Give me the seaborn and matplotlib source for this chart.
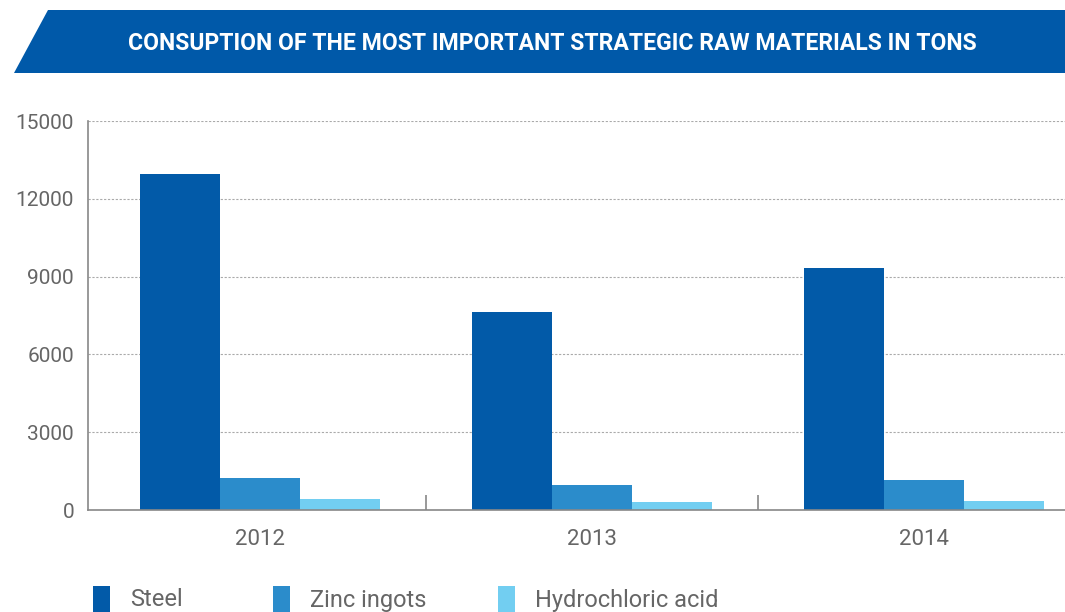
import pandas as pd
import matplotlib
matplotlib.use('Agg')
import matplotlib.pyplot as plt
from matplotlib.patches import Polygon, Rectangle
import seaborn as sns

# ============================================================
# Data (tons)
# ============================================================
years = ['2012', '2013', '2014']
materials = ['Steel', 'Zinc ingots', 'Hydrochloric acid']
steel = [12950, 7650, 9350]
zinc = [1250, 970, 1170]
hydro = [430, 320, 360]
colors = ['#025AA8', '#2B8CCB', '#72CEF1']

df = pd.DataFrame({
    'Year': years * 3,
    'Material': [m for m in materials for _ in years],
    'Tons': steel + zinc + hydro,
})

W, H = 1065, 612
sns.set_style('white')
plt.rcParams['font.family'] = ['Roboto', 'DejaVu Sans']

fig = plt.figure(figsize=(W / 100, H / 100), dpi=100)
ax = fig.add_axes([88 / W, (H - 510) / H, (1094 - 88) / W, 389 / H])

sns.barplot(data=df, x='Year', y='Tons', hue='Material', order=years,
            hue_order=materials, palette=colors, width=0.72, saturation=1,
            ax=ax, legend=False, linewidth=0)

ax.set_xlim(-0.518, 2.512)
ax.set_ylim(0, 15000)
ax.set_yticks([0, 3000, 6000, 9000, 12000, 15000])
ax.set_xlabel('')
ax.set_ylabel('')
ax.yaxis.grid(True, linestyle=(0, (2, 1.5)), color='#aaaaaa', linewidth=0.8)
ax.set_axisbelow(True)
for s in ['top', 'right']:
    ax.spines[s].set_visible(False)
for s in ['left', 'bottom']:
    ax.spines[s].set_color('#888888')
    ax.spines[s].set_linewidth(1.2)
ax.tick_params(axis='both', length=0, labelsize=15, labelcolor='#666666')
ax.tick_params(axis='x', pad=14, labelsize=16)
ax.tick_params(axis='y', pad=10)
ax.set_xticks([0.5, 1.5], minor=True)
ax.tick_params(axis='x', which='minor', bottom=True, direction='in',
               length=11, width=1.2, color='#888888')

# ============================================================
# Title banner
# ============================================================
pts = [(14, 73), (48, 10), (W, 10), (W, 73)]
fig.patches.append(Polygon([(x / W, 1 - y / H) for x, y in pts],
                           closed=True, transform=fig.transFigure,
                           facecolor='#0059A9', edgecolor='none'))
fig.text(552 / W, 1 - 43 / H,
         'CONSUPTION OF THE MOST IMPORTANT STRATEGIC RAW MATERIALS IN TONS',
         color='white', fontsize=16.6, fontweight='bold', ha='center', va='center')

# ============================================================
# Legend (bottom, partly cut)
# ============================================================
for x0, label, c in zip([93, 273, 498], materials, colors):
    fig.patches.append(Rectangle((x0 / W, 0), 17 / W, 26 / H,
                                 transform=fig.transFigure,
                                 facecolor=c, edgecolor='none'))
    fig.text((x0 + 37) / W, 1 - 600 / H, label, fontsize=17,
             color='#666666', ha='left', va='center')

fig.savefig('out.png', dpi=100)
